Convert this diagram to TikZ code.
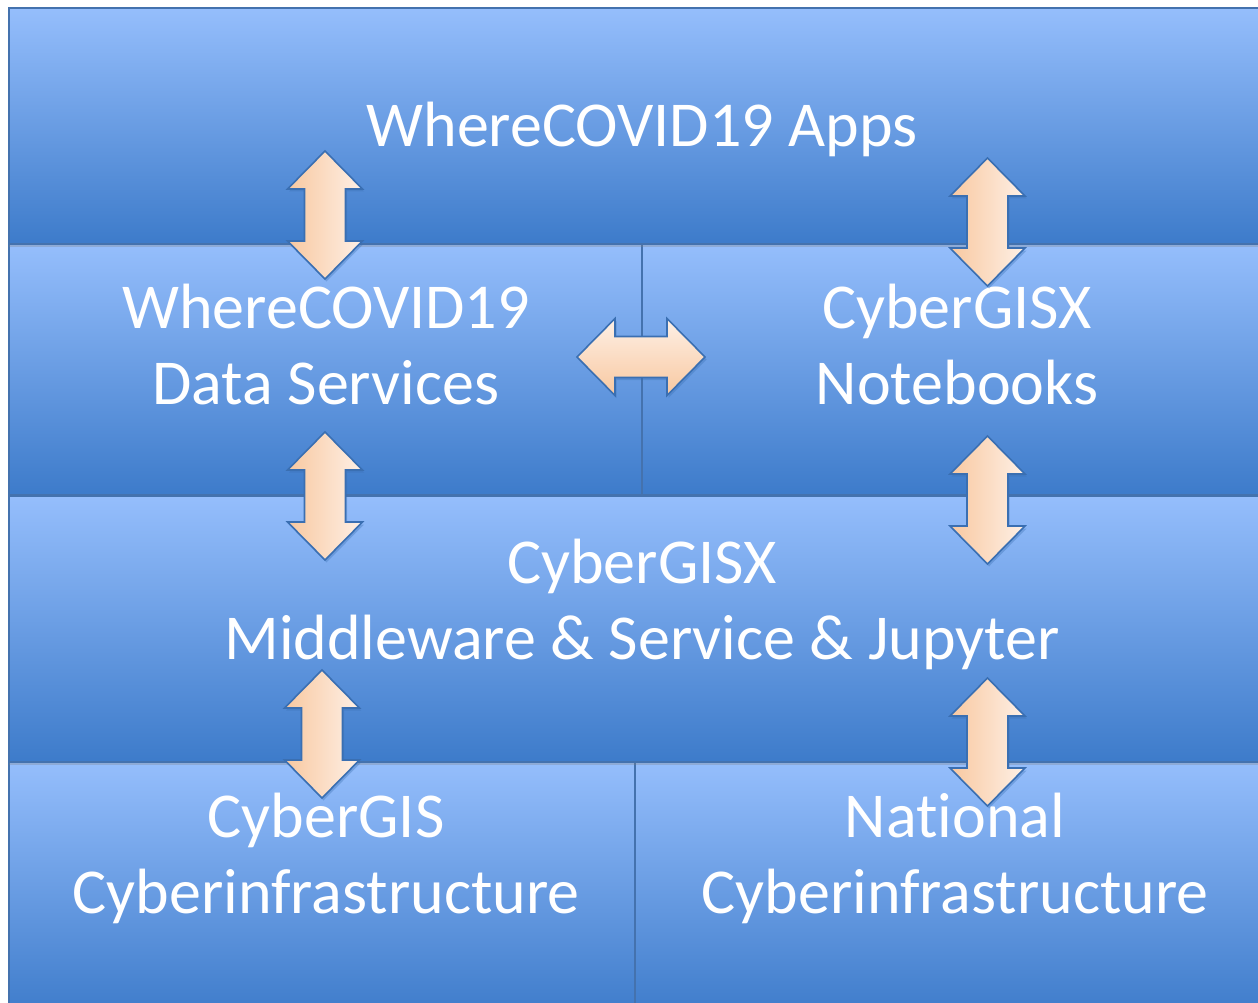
\documentclass[tikz,border=0pt]{standalone}
\usepackage{fontspec}
\setmainfont{Carlito}[Ligatures=NoCommon]
\usetikzlibrary{shadows}

\definecolor{boxlight}{HTML}{95BEFC}
\definecolor{boxmid}{HTML}{78A5EA}
\definecolor{boxdark}{HTML}{3D7BCA}
\definecolor{boxline}{HTML}{4472AE}
\definecolor{peachdark}{HTML}{F8C8A0}
\definecolor{peachlight}{HTML}{FEF0E6}
\definecolor{arrowline}{HTML}{3A6FB2}

\tikzset{
    layer/.style={draw=boxline, line width=1.4pt, top color=boxlight,
        middle color=boxmid, bottom color=boxdark, inner sep=0pt, outer sep=0pt,
        anchor=north west, drop shadow={shadow xshift=0pt, shadow yshift=-3pt, opacity=.3}},
    layertext/.style={text=white, align=center, anchor=base,
        font=\fontsize{64}{76}\selectfont},
    arrowbox/.style={draw=arrowline, line width=1.6pt,
        drop shadow={shadow xshift=1.5pt, shadow yshift=-2.5pt, opacity=.35, fill=arrowline}},
    varrow/.pic={
        \path[arrowbox, left color=peachdark, right color=peachlight]
            (0,-64) -- (37.5,-26) -- (20.5,-26) -- (20.5,26) -- (37.5,26)
            -- (0,64) -- (-37.5,26) -- (-20.5,26) -- (-20.5,-26) -- (-37.5,-26) -- cycle;
    },
    harrow/.pic={
        \path[arrowbox, top color=peachlight, bottom color=peachdark]
            (-64,0) -- (-26,-38.5) -- (-26,-20.5) -- (26,-20.5) -- (26,-38.5)
            -- (64,0) -- (26,38.5) -- (26,20.5) -- (-26,20.5) -- (-26,38.5) -- cycle;
    }
}

\begin{document}
\begin{tikzpicture}[x=1pt, y=-1pt]
    \useasboundingbox (0,0) rectangle (1258,1003);
    \clip (0,0) rectangle (1258,1003);

    % layers, lower ones first so the shadows fall on them
    \node[layer, minimum width=633, minimum height=251] (data) at (9,244) {};
    \node[layer, minimum width=630, minimum height=251] (notebooks) at (642,244) {};
    \node[layer, minimum width=1265, minimum height=236] (apps) at (9,8) {};
    \node[layer, minimum width=626, minimum height=255] (cybergis) at (9,762) {};
    \node[layer, minimum width=640, minimum height=255] (national) at (635,762) {};
    \node[layer, minimum width=1265, minimum height=266] (middleware) at (9,496) {};

    % texts (base = last line)
    \node[layertext] (appsText) at (642,147) {WhereCOVID19 Apps};
    \node[layertext] (dataText) at (326,404) {WhereCOVID19\\Data Services};
    \node[layertext] (notebooksText) at (957,404) {CyberGISX\\Notebooks};
    \node[layertext] (middlewareText) at (642,659) {CyberGISX\\Middleware \& Service \& Jupyter};
    \node[layertext] (cybergisText) at (326,913) {CyberGIS\\Cyberinfrastructure};
    \node[layertext] (nationalText) at (955,913) {National\\Cyberinfrastructure};

    % arrows
    \pic (appsData) at (325,215) {varrow};
    \pic (appsNotebooks) at (987.5,222) {varrow};
    \pic (dataNotebooks) at (641,357) {harrow};
    \pic (dataMiddleware) at (325,496) {varrow};
    \pic (notebooksMiddleware) at (987.5,500) {varrow};
    \pic (middlewareCybergis) at (322,734) {varrow};
    \pic (middlewareNational) at (987.5,742) {varrow};
\end{tikzpicture}
\end{document}
